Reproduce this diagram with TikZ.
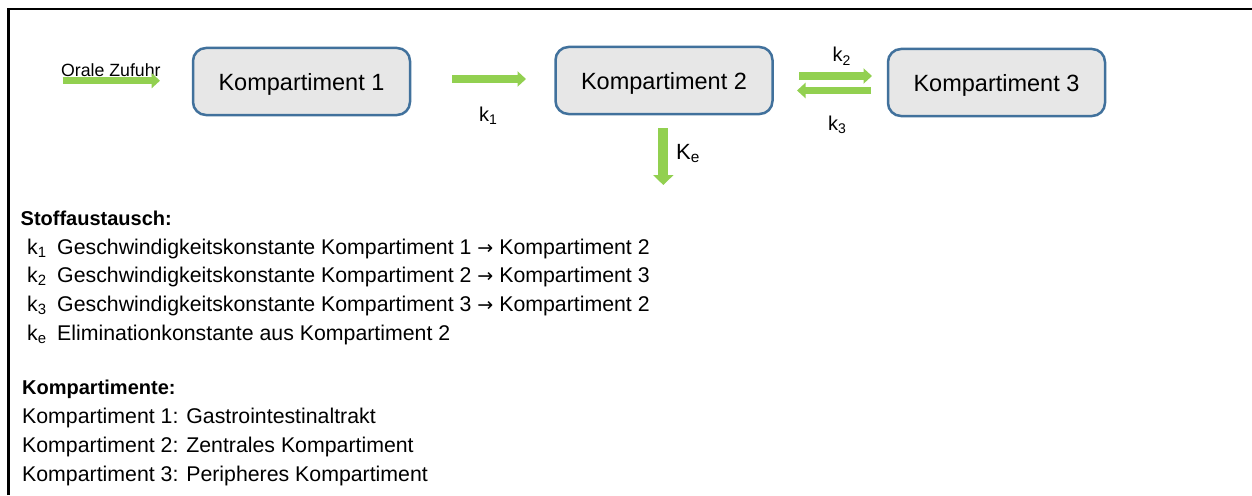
\documentclass[tikz,border=0pt]{standalone}
\usepackage{fontspec}
\setmainfont{Liberation Sans}
\newfontfamily\symfont{DejaVu Sans}
\usetikzlibrary{arrows.meta}
\definecolor{arrowgreen}{RGB}{146,208,80}
\definecolor{boxfill}{RGB}{231,231,231}
\definecolor{boxline}{RGB}{65,113,156}
\newcommand{\fs}[1]{\fontsize{#1}{#1}\selectfont}
\newcommand{\rarr}{{\symfont\fontsize{19}{19}\selectfont →}}
\tikzset{
  kbox/.style={draw=boxline, fill=boxfill, line width=2.5pt, rounded corners=13pt,
    minimum width=217pt, minimum height=67pt, inner sep=0pt,
    font=\fs{23.5}, text height=17pt, text depth=0pt},
  harrow/.style={draw=arrowgreen, line width=7.3pt, -{Triangle[length=8.5pt,width=15pt]}},
  varrow/.style={draw=arrowgreen, line width=10pt, -{Triangle[length=10pt,width=20pt]}},
  klabel/.style={anchor=base west, inner sep=0pt, font=\fs{20}},
  bodytext/.style={anchor=base west, inner sep=0pt, font=\fs{21.3}},
  headtext/.style={anchor=base west, inner sep=0pt, font=\fs{20}\bfseries},
  frame/.style={draw=black, line width=2.6pt}
}
\begin{document}
\begin{tikzpicture}[x=1pt,y=-1pt]
\useasboundingbox (0,0) rectangle (1252,495);
% frame
\coordinate (fbl) at (8.7,495);
\coordinate (ftl) at (8.7,9);
\coordinate (ftr) at (1252,9);
\draw[frame] (fbl) -- (ftl) -- (ftr);

% boxes
\node[kbox] (b1) at (301.5,81.5) {Kompartiment 1};
\node[kbox] (b2) at (664,80.5) {Kompartiment 2};
\node[kbox] (b3) at (996.5,82.5) {Kompartiment 3};

% oral intake
\node[anchor=base west, inner sep=0pt, font=\fs{17.7}] (oz) at (61,76) {Orale Zufuhr};
\coordinate (oza) at (62.7,80.7);
\coordinate (ozb) at (160,80.7);
\draw[harrow] (oza) -- (ozb);

% k1
\coordinate (k1a) at (452,79);
\coordinate (k1b) at (526,79);
\draw[harrow] (k1a) -- (k1b);
\node[klabel] (lk1) at (479,121.5) {k\textsubscript{1}};

% k2 / k3
\coordinate (k2a) at (799,76);
\coordinate (k2b) at (872,76);
\draw[harrow] (k2a) -- (k2b);
\coordinate (k3a) at (871,90.5);
\coordinate (k3b) at (797,90.5);
\draw[harrow] (k3a) -- (k3b);
\node[klabel] (lk2) at (832.5,62) {k\textsubscript{2}};
\node[klabel] (lk3) at (828,130) {k\textsubscript{3}};

% ke
\coordinate (kea) at (663.3,128.3);
\coordinate (keb) at (663.3,185);
\draw[varrow] (kea) -- (keb);
\node[klabel, font=\fs{22}] (lke) at (676,159) {K\textsubscript{e}};

% legend
\node[headtext] (h1) at (20.5,225.7) {Stoffaustausch:};
\node[bodytext] (t1) at (27,254.3) {\makebox[30pt][l]{k\textsubscript{1}}Geschwindigkeitskonstante Kompartiment 1 \rarr\ Kompartiment 2};
\node[bodytext] (t2) at (27,282.6) {\makebox[30pt][l]{k\textsubscript{2}}Geschwindigkeitskonstante Kompartiment 2 \rarr\ Kompartiment 3};
\node[bodytext] (t3) at (27,311.5) {\makebox[30pt][l]{k\textsubscript{3}}Geschwindigkeitskonstante Kompartiment 3 \rarr\ Kompartiment 2};
\node[bodytext] (t4) at (27,340.5) {\makebox[30pt][l]{k\textsubscript{e}}Eliminationkonstante aus Kompartiment 2};

\node[headtext] (h2) at (22,394.3) {Kompartimente:};
\node[bodytext] (u1) at (22,423.8) {Kompartiment 1: Gastrointestinaltrakt};
\node[bodytext] (u2) at (22,452.5) {Kompartiment 2: Zentrales Kompartiment};
\node[bodytext] (u3) at (22,481) {Kompartiment 3: Peripheres Kompartiment};
\end{tikzpicture}
\end{document}
